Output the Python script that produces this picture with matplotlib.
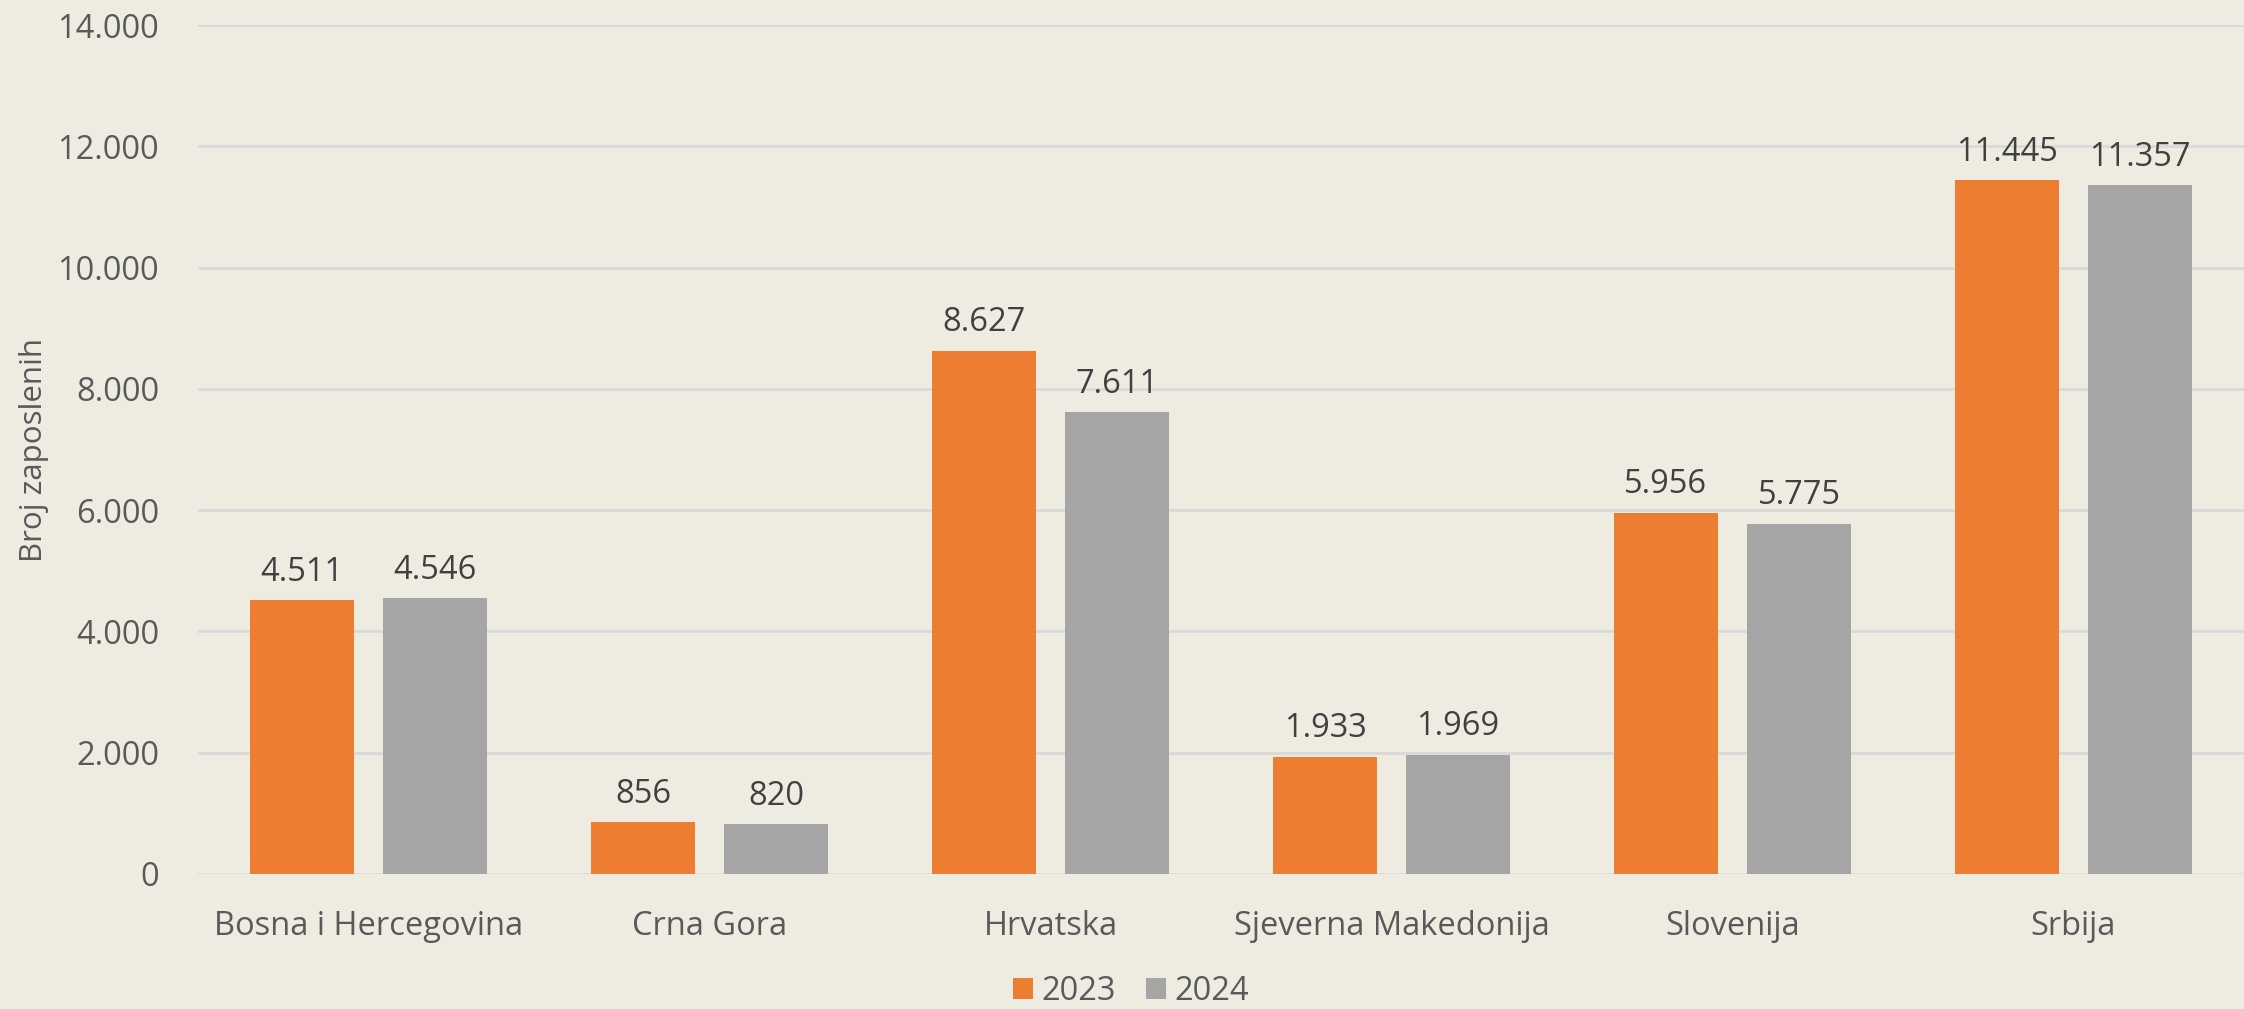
import numpy as np
import matplotlib
matplotlib.use('Agg')
import matplotlib.pyplot as plt
from matplotlib.ticker import FuncFormatter

# podaci - broj zaposlenih po zemljama
zemlje = ['Bosna i Hercegovina', 'Crna Gora', 'Hrvatska', 'Sjeverna Makedonija', 'Slovenija', 'Srbija']
godine = ['2023', '2024']
vrijednosti_2023 = [4511, 856, 8627, 1933, 5956, 11445]
vrijednosti_2024 = [4546, 820, 7611, 1969, 5775, 11357]
y_ticks = [0, 2000, 4000, 6000, 8000, 10000, 12000, 14000]

bg = '#EEECE1'
boje = ['#ED7D31', '#A5A5A5']

plt.rcParams['font.family'] = ['Open Sans', 'DejaVu Sans']

fig = plt.figure(figsize=(22.44, 10.09), dpi=100, facecolor=bg)
ax = fig.add_axes([0.0882, 0.1338, 0.9118, 0.8414])
ax.set_facecolor(bg)

x = np.arange(len(zemlje))
w = 0.307
off = 0.195


def fmt(v):
    return f'{int(v):,}'.replace(',', '.')


for i, (vals, lab) in enumerate(zip([vrijednosti_2023, vrijednosti_2024], godine)):
    bars = ax.bar(x + (i * 2 - 1) * off, vals, w, color=boje[i], label=lab, zorder=3)
    for b, v in zip(bars, vals):
        ax.text(b.get_x() + b.get_width() / 2, v + 460, fmt(v), ha='center', va='center',
                fontsize=23.5, color='#404040', zorder=4)

ax.set_xlim(-0.5, len(zemlje) - 0.5)
ax.set_ylim(0, 14000)
ax.set_yticks(y_ticks)
ax.yaxis.set_major_formatter(FuncFormatter(lambda v, p: fmt(v)))
ax.set_xticks(x)
ax.set_xticklabels(zemlje)
ax.tick_params(axis='both', length=0, labelsize=23.5, labelcolor='#595959')
ax.tick_params(axis='y', pad=28)
ax.tick_params(axis='x', pad=26)
ax.grid(axis='y', color='#D9D9D9', linewidth=2, zorder=0)
for s in ax.spines.values():
    s.set_visible(False)

ax.set_ylabel('Broj zaposlenih', fontsize=22.5, color='#595959')
ax.yaxis.set_label_coords(-0.073, 0.5)

leg = fig.legend(loc='lower center', bbox_to_anchor=(0.504, -0.028), ncol=2, frameon=False,
                 fontsize=23.5, handlelength=0.6, handleheight=0.6, handletextpad=0.25,
                 columnspacing=0.95, labelcolor='#595959')

fig.savefig('out.png', dpi=100, facecolor=bg)
